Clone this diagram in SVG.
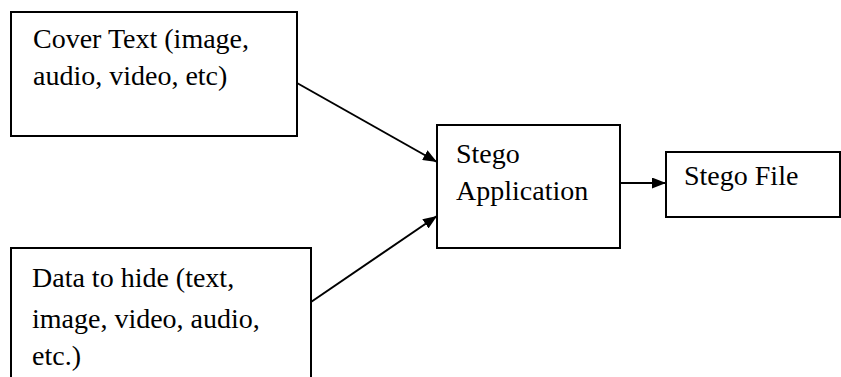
<svg xmlns="http://www.w3.org/2000/svg" width="841" height="377" viewBox="0 0 841 377">
<defs>
<marker id="ah" markerWidth="14" markerHeight="11" refX="14" refY="5.5" orient="auto" markerUnits="userSpaceOnUse">
<path d="M0,0 L14,5.5 L0,11 Z" fill="#000"/>
</marker>
</defs>
<style>
.box{fill:#fff;stroke:#000;stroke-width:2}
.t{font-family:"Liberation Serif","Times New Roman",serif;font-size:28px;fill:#000}
.c{stroke:#000;stroke-width:2;fill:none}
</style>
<rect width="841" height="377" fill="#fff"/>
<g id="connectors">
<line class="c" x1="297" y1="83" x2="437" y2="162" marker-end="url(#ah)"/>
<line class="c" x1="311" y1="302" x2="437" y2="216" marker-end="url(#ah)"/>
<line class="c" x1="620" y1="183" x2="666" y2="183" marker-end="url(#ah)"/>
</g>
<g id="cover">
<rect class="box" x="11" y="12" width="286" height="124"/>
<text class="t" x="33" y="48">Cover Text (image,</text>
<text class="t" x="33" y="85">audio, video, etc)</text>
</g>
<g id="data">
<rect class="box" x="11" y="248" width="300" height="140"/>
<text class="t" x="32" y="287">Data to hide (text,</text>
<text class="t" x="32" y="328">image, video, audio,</text>
<text class="t" x="32" y="365">etc.)</text>
</g>
<g id="stegoapp">
<rect class="box" x="437" y="125" width="183" height="123"/>
<text class="t" x="456" y="163">Stego</text>
<text class="t" x="456" y="200">Application</text>
</g>
<g id="stegofile">
<rect class="box" x="666" y="152" width="174" height="65"/>
<text class="t" x="684" y="185">Stego File</text>
</g>
</svg>
